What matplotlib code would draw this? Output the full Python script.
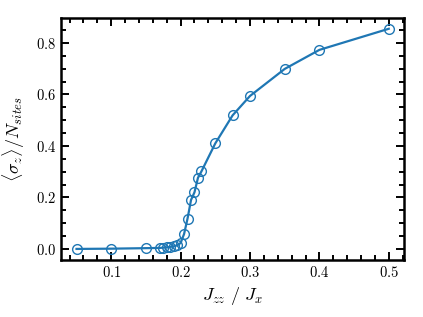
import matplotlib
matplotlib.use("Agg")
import matplotlib.pyplot as plt
from matplotlib.ticker import MultipleLocator

plt.rcParams['font.family'] = 'serif'
plt.rcParams['font.serif'] = ['cmr10']
plt.rcParams['mathtext.fontset'] = 'cm'
plt.rcParams['axes.formatter.use_mathtext'] = True

# J_zz / J_x values and magnetisation per site
jzz = [0.05, 0.1, 0.15, 0.17, 0.175, 0.18, 0.185, 0.19, 0.195, 0.2,
       0.205, 0.21, 0.215, 0.22, 0.225, 0.23, 0.25, 0.275, 0.3, 0.35,
       0.4, 0.5]
sigma_z = [0.0, 0.001, 0.003, 0.004, 0.005, 0.006, 0.008, 0.010, 0.014, 0.023,
           0.058, 0.118, 0.19, 0.22, 0.276, 0.301, 0.41, 0.519, 0.594, 0.699,
           0.773, 0.855]

fig = plt.figure(figsize=(4.23, 3.17), dpi=100)
ax = fig.add_axes([0.144, 0.18, 0.812, 0.764])

ax.plot(jzz, sigma_z, '-o', color='#1f77b4', lw=1.6,
        mfc='none', ms=7, mew=1.0)

ax.set_xlabel(r'$J_{zz}\ /\ J_x$', fontsize=13)
ax.set_ylabel(r'$\langle \sigma_z \rangle / N_{sites}$', fontsize=13,
              labelpad=6)

ax.xaxis.set_major_locator(MultipleLocator(0.1))
ax.xaxis.set_minor_locator(MultipleLocator(0.02))
ax.yaxis.set_major_locator(MultipleLocator(0.2))
ax.yaxis.set_minor_locator(MultipleLocator(0.05))

ax.tick_params(which='both', direction='in', top=True, right=True,
               labelsize=10.5, width=1.4)
ax.tick_params(which='major', length=6)
ax.tick_params(which='minor', length=3.5)
for sp in ax.spines.values():
    sp.set_linewidth(1.8)

fig.savefig('out.png', dpi=100)
